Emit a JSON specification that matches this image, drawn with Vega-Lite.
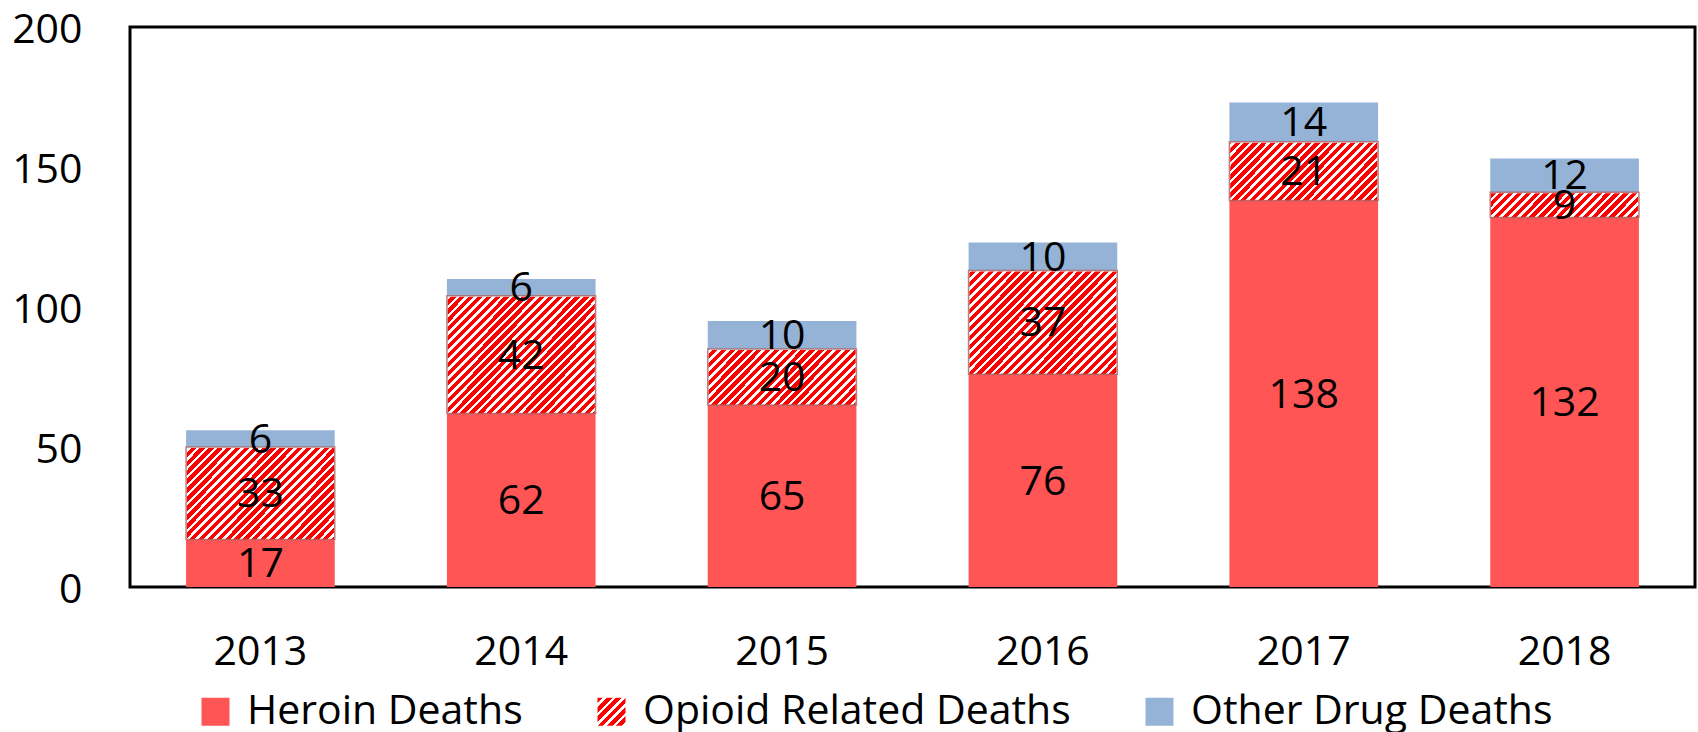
{
  "$schema": "https://vega.github.io/schema/vega-lite/v6.json",
  "width": 1565,
  "height": 560,
  "autosize": {"type": "none"},
  "padding": {"left": 130, "top": 27, "right": 3, "bottom": 145},
  "background": "#ffffff",
  "config": {
    "font": "Open Sans",
    "view": {"stroke": "#000000", "strokeWidth": 3},
    "axis": {"grid": false, "domain": false, "ticks": false, "labelFont": "Open Sans", "labelFontSize": 41, "labelColor": "#000000", "title": null},
    "legend": {"labelFont": "Open Sans"}
  },
  "data": {
    "values": [
      {"year": "2013", "series": "Heroin Deaths", "value": 17},
      {"year": "2013", "series": "Opioid Related Deaths", "value": 33},
      {"year": "2013", "series": "Other Drug Deaths", "value": 6},
      {"year": "2014", "series": "Heroin Deaths", "value": 62},
      {"year": "2014", "series": "Opioid Related Deaths", "value": 42},
      {"year": "2014", "series": "Other Drug Deaths", "value": 6},
      {"year": "2015", "series": "Heroin Deaths", "value": 65},
      {"year": "2015", "series": "Opioid Related Deaths", "value": 20},
      {"year": "2015", "series": "Other Drug Deaths", "value": 10},
      {"year": "2016", "series": "Heroin Deaths", "value": 76},
      {"year": "2016", "series": "Opioid Related Deaths", "value": 37},
      {"year": "2016", "series": "Other Drug Deaths", "value": 10},
      {"year": "2017", "series": "Heroin Deaths", "value": 138},
      {"year": "2017", "series": "Opioid Related Deaths", "value": 21},
      {"year": "2017", "series": "Other Drug Deaths", "value": 14},
      {"year": "2018", "series": "Heroin Deaths", "value": 132},
      {"year": "2018", "series": "Opioid Related Deaths", "value": 9},
      {"year": "2018", "series": "Other Drug Deaths", "value": 12}
    ]
  },
  "transform": [
    {"stack": "value", "groupby": ["year"], "sort": [{"field": "series", "order": "ascending"}], "as": ["v0", "v1"]},
    {"calculate": "(datum.v0 + datum.v1) / 2", "as": "mid"}
  ],
  "encoding": {
    "x": {
      "field": "year",
      "type": "nominal",
      "scale": {"paddingInner": 0.43, "paddingOuter": 0.215},
      "axis": {"labelAngle": 0, "labelPadding": 45, "title": null}
    }
  },
  "layer": [
    {
      "transform": [{"filter": "datum.series === 'Opioid Related Deaths'"}],
      "mark": {
        "type": "bar",
        "stroke": null,
        "width": {"band": 0.99},
        "fill": {
          "gradient": "linear",
          "x1": 0, "y1": 0, "x2": 0.398, "y2": 1.2,
          "stops": [
            {"offset":0,"color":"red"},{"offset":0.009,"color":"red"},{"offset":0.009,"color":"white"},{"offset":0.015,"color":"white"},
            {"offset":0.015,"color":"red"},{"offset":0.024,"color":"red"},{"offset":0.024,"color":"white"},{"offset":0.03,"color":"white"},
            {"offset":0.03,"color":"red"},{"offset":0.039,"color":"red"},{"offset":0.039,"color":"white"},{"offset":0.045,"color":"white"},
            {"offset":0.045,"color":"red"},{"offset":0.054,"color":"red"},{"offset":0.054,"color":"white"},{"offset":0.06,"color":"white"},
            {"offset":0.06,"color":"red"},{"offset":0.069,"color":"red"},{"offset":0.069,"color":"white"},{"offset":0.075,"color":"white"},
            {"offset":0.075,"color":"red"},{"offset":0.084,"color":"red"},{"offset":0.084,"color":"white"},{"offset":0.09,"color":"white"},
            {"offset":0.09,"color":"red"},{"offset":0.099,"color":"red"},{"offset":0.099,"color":"white"},{"offset":0.105,"color":"white"},
            {"offset":0.105,"color":"red"},{"offset":0.114,"color":"red"},{"offset":0.114,"color":"white"},{"offset":0.12,"color":"white"},
            {"offset":0.12,"color":"red"},{"offset":0.129,"color":"red"},{"offset":0.129,"color":"white"},{"offset":0.135,"color":"white"},
            {"offset":0.135,"color":"red"},{"offset":0.144,"color":"red"},{"offset":0.144,"color":"white"},{"offset":0.15,"color":"white"},
            {"offset":0.15,"color":"red"},{"offset":0.159,"color":"red"},{"offset":0.159,"color":"white"},{"offset":0.165,"color":"white"},
            {"offset":0.165,"color":"red"},{"offset":0.174,"color":"red"},{"offset":0.174,"color":"white"},{"offset":0.18,"color":"white"},
            {"offset":0.18,"color":"red"},{"offset":0.189,"color":"red"},{"offset":0.189,"color":"white"},{"offset":0.195,"color":"white"},
            {"offset":0.195,"color":"red"},{"offset":0.204,"color":"red"},{"offset":0.204,"color":"white"},{"offset":0.21,"color":"white"},
            {"offset":0.21,"color":"red"},{"offset":0.219,"color":"red"},{"offset":0.219,"color":"white"},{"offset":0.225,"color":"white"},
            {"offset":0.225,"color":"red"},{"offset":0.234,"color":"red"},{"offset":0.234,"color":"white"},{"offset":0.24,"color":"white"},
            {"offset":0.24,"color":"red"},{"offset":0.249,"color":"red"},{"offset":0.249,"color":"white"},{"offset":0.255,"color":"white"},
            {"offset":0.255,"color":"red"},{"offset":0.264,"color":"red"},{"offset":0.264,"color":"white"},{"offset":0.27,"color":"white"},
            {"offset":0.27,"color":"red"},{"offset":0.279,"color":"red"},{"offset":0.279,"color":"white"},{"offset":0.285,"color":"white"},
            {"offset":0.285,"color":"red"},{"offset":0.294,"color":"red"},{"offset":0.294,"color":"white"},{"offset":0.3,"color":"white"},
            {"offset":0.3,"color":"red"},{"offset":0.309,"color":"red"},{"offset":0.309,"color":"white"},{"offset":0.315,"color":"white"},
            {"offset":0.315,"color":"red"},{"offset":0.324,"color":"red"},{"offset":0.324,"color":"white"},{"offset":0.33,"color":"white"},
            {"offset":0.33,"color":"red"},{"offset":0.339,"color":"red"},{"offset":0.339,"color":"white"},{"offset":0.345,"color":"white"},
            {"offset":0.345,"color":"red"},{"offset":0.354,"color":"red"},{"offset":0.354,"color":"white"},{"offset":0.36,"color":"white"},
            {"offset":0.36,"color":"red"},{"offset":0.369,"color":"red"},{"offset":0.369,"color":"white"},{"offset":0.375,"color":"white"},
            {"offset":0.375,"color":"red"},{"offset":0.384,"color":"red"},{"offset":0.384,"color":"white"},{"offset":0.39,"color":"white"},
            {"offset":0.39,"color":"red"},{"offset":0.399,"color":"red"},{"offset":0.399,"color":"white"},{"offset":0.405,"color":"white"},
            {"offset":0.405,"color":"red"},{"offset":0.414,"color":"red"},{"offset":0.414,"color":"white"},{"offset":0.42,"color":"white"},
            {"offset":0.42,"color":"red"},{"offset":0.429,"color":"red"},{"offset":0.429,"color":"white"},{"offset":0.435,"color":"white"},
            {"offset":0.435,"color":"red"},{"offset":0.444,"color":"red"},{"offset":0.444,"color":"white"},{"offset":0.45,"color":"white"},
            {"offset":0.45,"color":"red"},{"offset":0.459,"color":"red"},{"offset":0.459,"color":"white"},{"offset":0.465,"color":"white"},
            {"offset":0.465,"color":"red"},{"offset":0.474,"color":"red"},{"offset":0.474,"color":"white"},{"offset":0.48,"color":"white"},
            {"offset":0.48,"color":"red"},{"offset":0.489,"color":"red"},{"offset":0.489,"color":"white"},{"offset":0.495,"color":"white"},
            {"offset":0.495,"color":"red"},{"offset":0.504,"color":"red"},{"offset":0.504,"color":"white"},{"offset":0.51,"color":"white"},
            {"offset":0.51,"color":"red"},{"offset":0.519,"color":"red"},{"offset":0.519,"color":"white"},{"offset":0.525,"color":"white"},
            {"offset":0.525,"color":"red"},{"offset":0.534,"color":"red"},{"offset":0.534,"color":"white"},{"offset":0.54,"color":"white"},
            {"offset":0.54,"color":"red"},{"offset":0.549,"color":"red"},{"offset":0.549,"color":"white"},{"offset":0.555,"color":"white"},
            {"offset":0.555,"color":"red"},{"offset":0.564,"color":"red"},{"offset":0.564,"color":"white"},{"offset":0.57,"color":"white"},
            {"offset":0.57,"color":"red"},{"offset":0.579,"color":"red"},{"offset":0.579,"color":"white"},{"offset":0.585,"color":"white"},
            {"offset":0.585,"color":"red"},{"offset":0.594,"color":"red"},{"offset":0.594,"color":"white"},{"offset":0.6,"color":"white"},
            {"offset":0.6,"color":"red"},{"offset":0.609,"color":"red"},{"offset":0.609,"color":"white"},{"offset":0.615,"color":"white"},
            {"offset":0.615,"color":"red"},{"offset":0.624,"color":"red"},{"offset":0.624,"color":"white"},{"offset":0.63,"color":"white"},
            {"offset":0.63,"color":"red"},{"offset":0.639,"color":"red"},{"offset":0.639,"color":"white"},{"offset":0.645,"color":"white"},
            {"offset":0.645,"color":"red"},{"offset":0.654,"color":"red"},{"offset":0.654,"color":"white"},{"offset":0.66,"color":"white"},
            {"offset":0.66,"color":"red"},{"offset":0.669,"color":"red"},{"offset":0.669,"color":"white"},{"offset":0.675,"color":"white"},
            {"offset":0.675,"color":"red"},{"offset":0.684,"color":"red"},{"offset":0.684,"color":"white"},{"offset":0.69,"color":"white"},
            {"offset":0.69,"color":"red"},{"offset":0.699,"color":"red"},{"offset":0.699,"color":"white"},{"offset":0.705,"color":"white"},
            {"offset":0.705,"color":"red"},{"offset":0.714,"color":"red"},{"offset":0.714,"color":"white"},{"offset":0.72,"color":"white"},
            {"offset":0.72,"color":"red"},{"offset":0.729,"color":"red"},{"offset":0.729,"color":"white"},{"offset":0.735,"color":"white"},
            {"offset":0.735,"color":"red"},{"offset":0.744,"color":"red"},{"offset":0.744,"color":"white"},{"offset":0.75,"color":"white"},
            {"offset":0.75,"color":"red"},{"offset":0.759,"color":"red"},{"offset":0.759,"color":"white"},{"offset":0.765,"color":"white"},
            {"offset":0.765,"color":"red"},{"offset":0.774,"color":"red"},{"offset":0.774,"color":"white"},{"offset":0.78,"color":"white"},
            {"offset":0.78,"color":"red"},{"offset":0.789,"color":"red"},{"offset":0.789,"color":"white"},{"offset":0.795,"color":"white"},
            {"offset":0.795,"color":"red"},{"offset":0.804,"color":"red"},{"offset":0.804,"color":"white"},{"offset":0.81,"color":"white"},
            {"offset":0.81,"color":"red"},{"offset":0.819,"color":"red"},{"offset":0.819,"color":"white"},{"offset":0.825,"color":"white"},
            {"offset":0.825,"color":"red"},{"offset":0.834,"color":"red"},{"offset":0.834,"color":"white"},{"offset":0.84,"color":"white"},
            {"offset":0.84,"color":"red"},{"offset":0.849,"color":"red"},{"offset":0.849,"color":"white"},{"offset":0.855,"color":"white"},
            {"offset":0.855,"color":"red"},{"offset":0.864,"color":"red"},{"offset":0.864,"color":"white"},{"offset":0.87,"color":"white"},
            {"offset":0.87,"color":"red"},{"offset":0.879,"color":"red"},{"offset":0.879,"color":"white"},{"offset":0.885,"color":"white"},
            {"offset":0.885,"color":"red"},{"offset":0.894,"color":"red"},{"offset":0.894,"color":"white"},{"offset":0.9,"color":"white"},
            {"offset":0.9,"color":"red"},{"offset":0.909,"color":"red"},{"offset":0.909,"color":"white"},{"offset":0.915,"color":"white"},
            {"offset":0.915,"color":"red"},{"offset":0.924,"color":"red"},{"offset":0.924,"color":"white"},{"offset":0.93,"color":"white"},
            {"offset":0.93,"color":"red"},{"offset":0.939,"color":"red"},{"offset":0.939,"color":"white"},{"offset":0.945,"color":"white"},
            {"offset":0.945,"color":"red"},{"offset":0.954,"color":"red"},{"offset":0.954,"color":"white"},{"offset":0.96,"color":"white"},
            {"offset":0.96,"color":"red"},{"offset":0.969,"color":"red"},{"offset":0.969,"color":"white"},{"offset":0.975,"color":"white"},
            {"offset":0.975,"color":"red"},{"offset":0.984,"color":"red"},{"offset":0.984,"color":"white"},{"offset":0.99,"color":"white"},
            {"offset":0.99,"color":"red"},{"offset":0.999,"color":"red"},{"offset":0.999,"color":"white"},{"offset":1,"color":"white"}
          ]
        }
      },
      "encoding": {
        "y": {
          "datum": 0,
          "type": "quantitative",
          "scale": {"domain": [0, 200], "nice": false},
          "axis": {"values": [0, 50, 100, 150, 200], "labelPadding": 48, "labelOffset": 3, "title": null}
        },
        "y2": {"datum": 160}
      }
    },
    {
      "transform": [{"filter": "datum.series === 'Opioid Related Deaths'"}],
      "mark": {"type": "bar", "fill": "#ffffff", "stroke": "#ffffff", "strokeWidth": 2},
      "encoding": {
        "y": {"field": "v1", "type": "quantitative", "scale": {"domain": [0, 200], "nice": false}, "axis": {"values": [0, 50, 100, 150, 200], "labelPadding": 48, "labelOffset": 3, "title": null}},
        "y2": {"datum": 161}
      }
    },
    {
      "transform": [{"filter": "datum.series !== 'Opioid Related Deaths'"}],
      "mark": {"type": "bar", "stroke": null},
      "encoding": {
        "y": {"field": "v0", "type": "quantitative", "scale": {"domain": [0, 200], "nice": false}, "axis": {"values": [0, 50, 100, 150, 200], "labelPadding": 48, "labelOffset": 3, "title": null}},
        "y2": {"field": "v1"},
        "color": {
          "field": "series",
          "type": "nominal",
          "scale": {
            "domain": ["Heroin Deaths", "Opioid Related Deaths", "Other Drug Deaths"],
            "range": [
              "#ff5555",
              {"expr": "{gradient: 'linear', x1: 0, y1: 0, x2: 1, y2: 1, stops: [{offset: 0, color: 'red'}, {offset: 0.1, color: 'red'}, {offset: 0.1, color: 'white'}, {offset: 0.167, color: 'white'}, {offset: 0.167, color: 'red'}, {offset: 0.267, color: 'red'}, {offset: 0.267, color: 'white'}, {offset: 0.333, color: 'white'}, {offset: 0.333, color: 'red'}, {offset: 0.433, color: 'red'}, {offset: 0.433, color: 'white'}, {offset: 0.5, color: 'white'}, {offset: 0.5, color: 'red'}, {offset: 0.6, color: 'red'}, {offset: 0.6, color: 'white'}, {offset: 0.667, color: 'white'}, {offset: 0.667, color: 'red'}, {offset: 0.767, color: 'red'}, {offset: 0.767, color: 'white'}, {offset: 0.833, color: 'white'}, {offset: 0.833, color: 'red'}, {offset: 0.933, color: 'red'}, {offset: 0.933, color: 'white'}, {offset: 1, color: 'white'}]}"},
              "#95b3d7"
            ]
          },
          "legend": {
            "orient": "none",
            "legendX": 65,
            "legendY": 664,
            "direction": "horizontal",
            "title": null,
            "symbolType": "square",
            "symbolSize": 784,
            "symbolStrokeWidth": 0,
            "labelFontSize": 41,
            "labelFont": "Open Sans",
            "labelColor": "#000000",
            "labelOffset": 11,
            "labelLimit": 800,
            "columnPadding": 68,
            "padding": 0
          }
        }
      }
    },
    {
      "transform": [{"filter": "datum.series === 'Opioid Related Deaths'"}],
      "mark": {"type": "bar", "fillOpacity": 0, "fill": "#ffffff", "stroke": "#a86262", "strokeWidth": 1.5, "strokeOpacity": 0.8},
      "encoding": {
        "y": {"field": "v0", "type": "quantitative", "scale": {"domain": [0, 200], "nice": false}, "axis": {"values": [0, 50, 100, 150, 200], "labelPadding": 48, "labelOffset": 3, "title": null}},
        "y2": {"field": "v1"}
      }
    },
    {
      "mark": {"type": "text", "fontSize": 41, "font": "Open Sans", "color": "#000000", "baseline": "middle", "align": "center", "dy": 2},
      "encoding": {
        "y": {"field": "mid", "type": "quantitative", "scale": {"domain": [0, 200], "nice": false}, "axis": {"values": [0, 50, 100, 150, 200], "labelPadding": 48, "labelOffset": 3, "title": null}},
        "text": {"field": "value", "type": "quantitative"}
      }
    }
  ]
}
